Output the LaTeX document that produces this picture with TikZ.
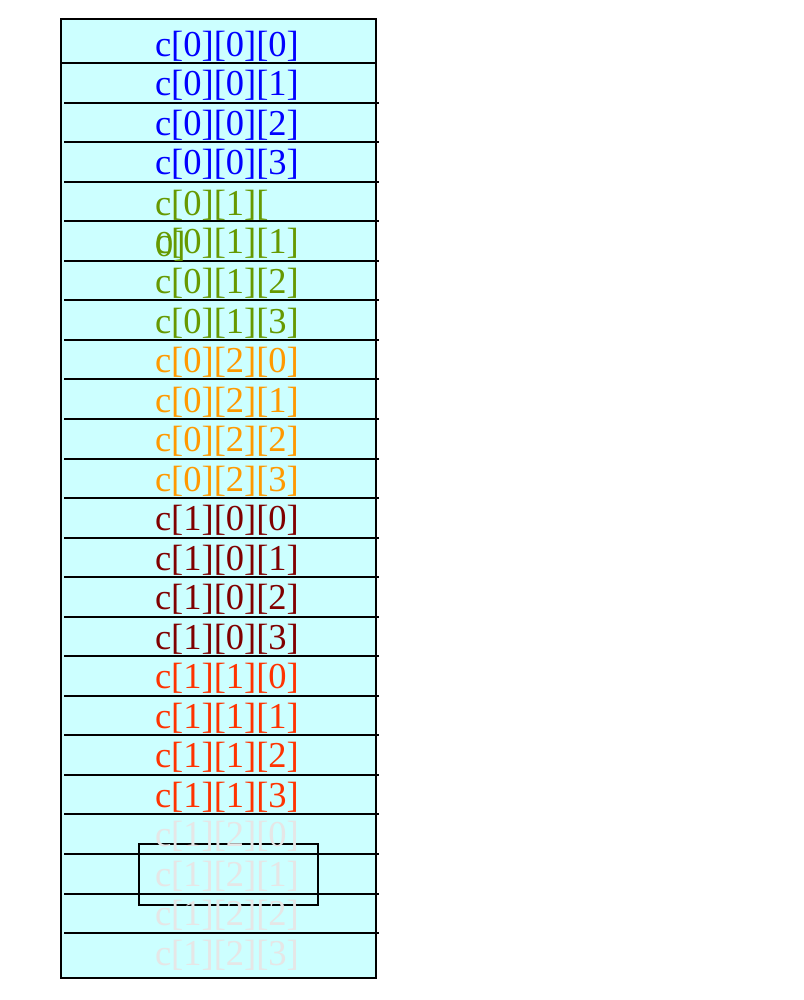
\documentclass[tikz,border=0pt]{standalone}
\usepackage{fontspec}
\setmainfont{Liberation Serif}
\definecolor{syaani}{HTML}{CCFFFF}
\definecolor{sininen}{HTML}{0000FF}
\definecolor{vihrea}{HTML}{669900}
\definecolor{oranssi}{HTML}{FF9900}
\definecolor{viininpunainen}{HTML}{800000}
\definecolor{punainen}{HTML}{FF3300}
\definecolor{harmaa}{HTML}{E6E6E6}

\begin{document}
\begin{tikzpicture}[x=1pt,y=-1pt,line width=2pt,
  every node/.style={anchor=base west,inner sep=0pt,font=\fontsize{36.5}{41}\selectfont}]
				\useasboundingbox (0,0) rectangle (803,1000);
				\draw[fill=syaani] (61,19) rectangle (376,978);
				\draw (61,63) -- (376,63);
				\foreach \r in {1,...,22}
					\draw (64,{63+39.55*\r}) -- (379,{63+39.55*\r});
				\draw (139,844) rectangle (318,905);
				\node[text=sininen] (c000) at (154,56.5) {c[0][0][0]};
				\node[text=sininen] (c001) at (154,96) {c[0][0][1]};
				\node[text=sininen] (c002) at (154,135.5) {c[0][0][2]};
				\node[text=sininen] (c003) at (154,175) {c[0][0][3]};
				\node[text=vihrea,align=left] (c010) at (154,256) {c[0][1][\\0]};
				\node[text=vihrea] (c011) at (154,254) {c[0][1][1]};
				\node[text=vihrea] (c012) at (154,293.5) {c[0][1][2]};
				\node[text=vihrea] (c013) at (154,333) {c[0][1][3]};
				\node[text=oranssi] (c020) at (154,372.5) {c[0][2][0]};
				\node[text=oranssi] (c021) at (154,412) {c[0][2][1]};
				\node[text=oranssi] (c022) at (154,451.5) {c[0][2][2]};
				\node[text=oranssi] (c023) at (154,491) {c[0][2][3]};
				\node[text=viininpunainen] (c100) at (154,530.5) {c[1][0][0]};
				\node[text=viininpunainen] (c101) at (154,570) {c[1][0][1]};
				\node[text=viininpunainen] (c102) at (154,609.5) {c[1][0][2]};
				\node[text=viininpunainen] (c103) at (154,649) {c[1][0][3]};
				\node[text=punainen] (c110) at (154,688.5) {c[1][1][0]};
				\node[text=punainen] (c111) at (154,728) {c[1][1][1]};
				\node[text=punainen] (c112) at (154,767.5) {c[1][1][2]};
				\node[text=punainen] (c113) at (154,807) {c[1][1][3]};
				\node[text=harmaa] (c120) at (154,846.5) {c[1][2][0]};
				\node[text=harmaa] (c121) at (154,886) {c[1][2][1]};
				\node[text=harmaa] (c122) at (154,925.5) {c[1][2][2]};
				\node[text=harmaa] (c123) at (154,965) {c[1][2][3]};
			\end{tikzpicture}
\end{document}
